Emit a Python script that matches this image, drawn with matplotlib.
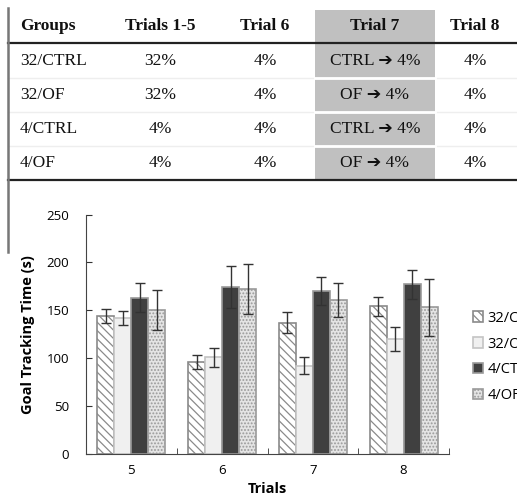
import matplotlib
matplotlib.use('Agg')
import matplotlib.pyplot as plt
import numpy as np

# table data
table_header = ['Groups', 'Trials 1-5', 'Trial 6', 'Trial 7', 'Trial 8']
table_rows = [
    ['32/CTRL', '32%', '4%', 'CTRL \u2794 4%', '4%'],
    ['32/OF', '32%', '4%', 'OF \u2794 4%', '4%'],
    ['4/CTRL', '4%', '4%', 'CTRL \u2794 4%', '4%'],
    ['4/OF', '4%', '4%', 'OF \u2794 4%', '4%'],
]

# chart data
trials = ['5', '6', '7', '8']
groups = ['32/CTRL', '32/OF', '4/CTRL', '4/OF']
means = {
    '32/CTRL': [144, 96, 137, 154],
    '32/OF': [142, 101, 92, 120],
    '4/CTRL': [163, 174, 170, 177],
    '4/OF': [150, 172, 161, 153],
}
errors = {
    '32/CTRL': [7, 7, 11, 10],
    '32/OF': [7.5, 10, 9, 13],
    '4/CTRL': [15, 22, 14.5, 15],
    '4/OF': [21, 26, 18, 29.5],
}

W, H = 517, 503
fig = plt.figure(figsize=(W / 100, H / 100), dpi=100)

# --- table drawn on an overlay in pixel coords ---
tab = fig.add_axes([0, 0, 1, 1])
tab.set_xlim(0, W)
tab.set_ylim(H, 0)
tab.axis('off')

col_x = [20, 160, 265, 375, 475]
row_y = [26, 61, 95, 129, 163]
row_edges = [10, 43, 78, 112, 146, 179]
serif = ['Liberation Serif', 'DejaVu Sans']

# shaded Trial 7 column
tab.add_patch(plt.Rectangle((315, 10), 120, 169, color='#c0c0c0', lw=0))
for y in row_edges[2:-1]:
    tab.plot([8, W], [y, y], color='#eeeeee', lw=1)
    tab.plot([315, 435], [y, y], color='white', lw=2)
tab.plot([8, W], [43, 43], color='#222222', lw=1.6)
tab.plot([8, W], [179.5, 179.5], color='#222222', lw=1.6)
tab.plot([7.5, 7.5], [8, 252], color='#777777', lw=1.8)

for j, h in enumerate(table_header):
    tab.text(col_x[j], row_y[0], h, ha='left' if j == 0 else 'center', va='center',
             fontsize=12.5, fontweight='bold', family=serif, color='#111111')
for i, row in enumerate(table_rows):
    for j, v in enumerate(row):
        tab.text(col_x[j], row_y[i + 1], v, ha='left' if j == 0 else 'center', va='center',
                 fontsize=12.5, family=serif, color='#111111')

# --- bar chart ---
ax = fig.add_axes([86 / W, (H - 454) / H, (449 - 86) / W, (454 - 214.5) / H])
x = np.arange(len(trials))
width = 0.1875
styles = {
    '32/CTRL': dict(color='white', edgecolor='#8a8a8a', hatch='\\\\\\\\'),
    '32/OF': dict(color='#f0f0f0', edgecolor='#c4c4c4', hatch=None),
    '4/CTRL': dict(color='#404040', edgecolor='#9a9a9a', hatch=None),
    '4/OF': dict(color='#e4e4e4', edgecolor='#9a9a9a', hatch='.....'),
}
plt.rcParams['hatch.linewidth'] = 0.9
for k, g in enumerate(groups):
    s = styles[g]
    ax.bar(x + (k - 1.5) * width, means[g], width, yerr=errors[g],
           facecolor=s['color'], edgecolor=s['edgecolor'], hatch=s['hatch'], linewidth=1.2,
           label=g, error_kw=dict(ecolor='#333333', elinewidth=1, capsize=3.5, capthick=1))

ax.set_xlim(-0.5, 3.5)
ax.set_ylim(0, 250)
ax.set_yticks(np.arange(0, 251, 50))
ax.set_xticks(x)
ax.set_xticklabels(trials)
ax.set_xticks(np.arange(-0.5, 3.6, 1), minor=True)
ax.tick_params(axis='x', which='major', length=0, pad=7)
ax.tick_params(axis='x', which='minor', direction='in', length=4, color='#333333')
ax.tick_params(axis='y', direction='in', length=4, pad=12, color='#333333')
for lab in ax.get_xticklabels() + ax.get_yticklabels():
    lab.set_fontsize(9.5)
    lab.set_family('Open Sans')
ax.spines['top'].set_visible(False)
ax.spines['right'].set_visible(False)
for sp in ['left', 'bottom']:
    ax.spines[sp].set_color('#444444')
ax.set_ylabel('Goal Tracking Time (s)', fontsize=10.5, fontweight='bold', family='Open Sans', labelpad=8)
ax.set_xlabel('Trials', fontsize=10.5, fontweight='bold', family='Open Sans', labelpad=4)

ax.legend(loc='center left', bbox_to_anchor=(460 / W, (H - 357) / H), bbox_transform=fig.transFigure,
          frameon=False, handlelength=0.7, handleheight=0.7, handletextpad=0.3, labelspacing=0.75,
          prop={'family': 'Open Sans', 'size': 10.5})

fig.savefig('out.png', dpi=100)
